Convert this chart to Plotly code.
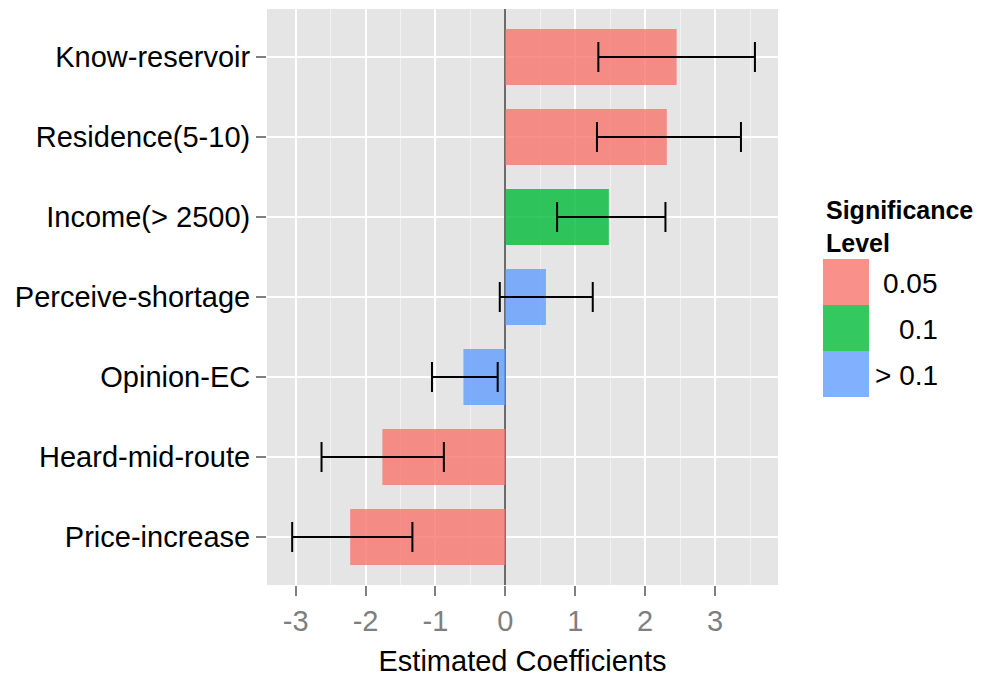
import plotly.graph_objects as go

# ---- data ----
variables = ["Know-reservoir", "Residence(5-10)", "Income(> 2500)", "Perceive-shortage",
             "Opinion-EC", "Heard-mid-route", "Price-increase"]
coefficients = [2.45, 2.31, 1.48, 0.58, -0.60, -1.76, -2.22]
ci_low = [1.33, 1.31, 0.74, -0.08, -1.05, -2.63, -3.05]
ci_high = [3.57, 3.37, 2.29, 1.25, -0.11, -0.88, -1.33]
significance = ["0.05", "0.05", "0.1", "> 0.1", "> 0.1", "0.05", "0.05"]
levels = ["0.05", "0.1", "> 0.1"]
x_ticks = [-3, -2, -1, 0, 1, 2, 3]

palette = {"0.05": "rgba(248,118,109,0.8)", "0.1": "rgba(0,186,56,0.8)", "> 0.1": "rgba(97,156,255,0.8)"}

W, H = 987, 678
L, R, T, B = 267, 778, 9, 585  # plot area in pixels
FONT = "Liberation Sans, Arial, sans-serif"
FS = 29

fig = go.Figure()
fig.add_trace(go.Bar(
    y=variables, x=coefficients, orientation="h", width=0.7,
    marker=dict(color=[palette[s] for s in significance], line=dict(width=0)),
    error_x=dict(type="data", symmetric=False,
                 array=[h - c for h, c in zip(ci_high, coefficients)],
                 arrayminus=[c - l for c, l in zip(coefficients, ci_low)],
                 color="black", thickness=2, width=15),
    showlegend=False,
))

def px_x(p):
    return (p - L) / (R - L)

def px_y(p):
    return (B - p) / (B - T)

shapes = []
annotations = []
# manual legend keys
key_top = 259
for i, lev in enumerate(levels):
    y0 = key_top + 46 * i
    shapes.append(dict(type="rect", xref="paper", yref="paper",
                       x0=px_x(823), x1=px_x(869), y0=px_y(y0 + 46), y1=px_y(y0),
                       fillcolor=palette[lev], line=dict(width=0), layer="above"))
    annotations.append(dict(xref="paper", yref="paper", x=px_x(940), y=px_y(y0 + 24),
                            text=lev, showarrow=False, xanchor="right", yanchor="middle",
                            font=dict(family=FONT, size=FS - 1, color="black")))
annotations.append(dict(xref="paper", yref="paper", x=px_x(824), y=px_y(226),
                        text="<b>Significance</b><br><b>Level</b>", showarrow=False,
                        xanchor="left", yanchor="middle", align="left",
                        font=dict(family=FONT, size=25, color="black")))

fig.update_layout(
    width=W, height=H,
    margin=dict(l=L, r=W - R, t=T, b=H - B, pad=0),
    paper_bgcolor="white", plot_bgcolor="#E5E5E5",
    font=dict(family=FONT),
    showlegend=False,
    shapes=shapes, annotations=annotations,
    xaxis=dict(range=[-3.41, 3.90], tickmode="array", tickvals=x_ticks,
               ticktext=[str(v) for v in x_ticks], automargin=False,
               showgrid=True, gridcolor="white", gridwidth=2,
               minor=dict(dtick=0.5, tick0=0.5, showgrid=True, gridcolor="#F2F2F2", gridwidth=1, ticks=""),
               zeroline=True, zerolinecolor="#6b6b6b", zerolinewidth=1.5,
               ticks="outside", ticklen=10, tickwidth=1.5, tickcolor="#7F7F7F",
               tickfont=dict(family=FONT, size=FS, color="#7F7F7F"),
               title=dict(text="Estimated Coefficients", standoff=14,
                          font=dict(family=FONT, size=FS, color="black")),
               showline=False),
    yaxis=dict(type="category", categoryorder="array", categoryarray=variables,
               range=[6.6, -0.6], automargin=False,
               showgrid=True, gridcolor="white", gridwidth=2,
               ticks="outside", ticklen=10, tickwidth=1.5, tickcolor="#7F7F7F",
               tickfont=dict(family=FONT, size=FS, color="black"),
               showline=False, zeroline=False),
)

fig.write_html("out.html")
